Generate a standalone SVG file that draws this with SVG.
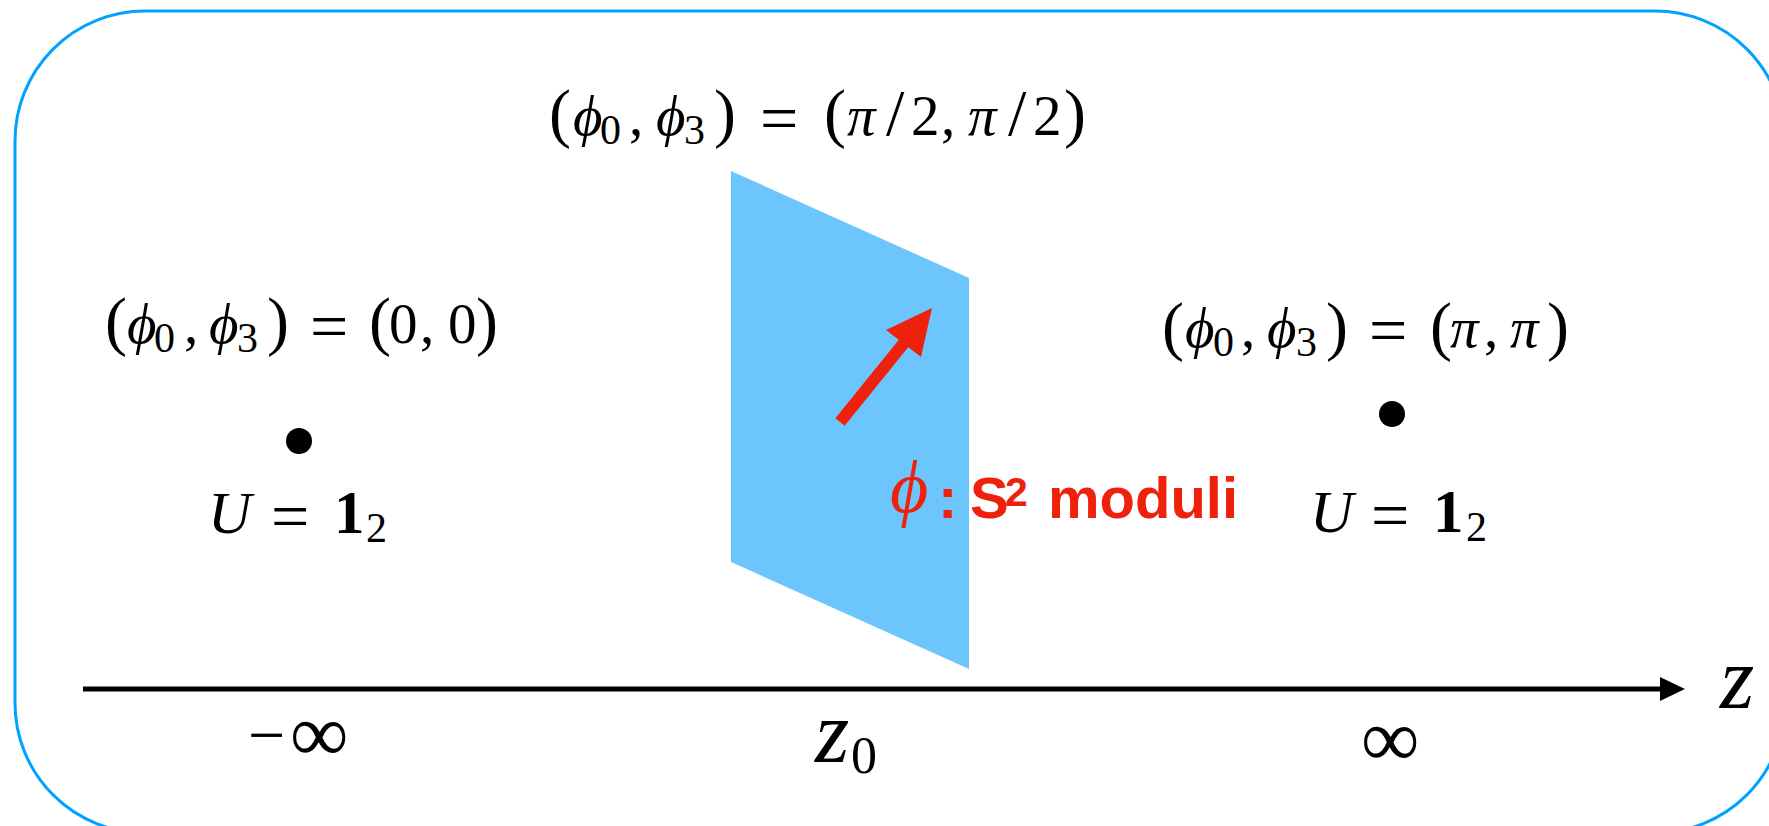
<svg xmlns="http://www.w3.org/2000/svg" width="1769" height="826" viewBox="0 0 1769 826">
<style>
.m{font-family:"Liberation Serif","DejaVu Serif",serif;fill:#000;font-size:57px}
.i{font-style:italic}
.p{font-size:66px}
.eq{font-size:68px}
.s{font-size:42px}
.bd{font-weight:bold;font-size:61px}
.red{fill:#EE220C}
.sans{font-family:"Liberation Sans","Noto Sans",sans-serif;font-weight:bold;font-style:normal;font-size:58px}
</style>
<defs>
<marker id="ah" markerWidth="25" markerHeight="24" refX="0" refY="12" orient="auto" markerUnits="userSpaceOnUse">
<path d="M0,0 L25,12 L0,24 Z" fill="#000"/>
</marker>
</defs>
<rect width="1769" height="826" fill="#fff"/>
<g id="frame">
<rect x="15" y="11" width="1770" height="822" rx="130" ry="130" fill="none" stroke="#00A2FF" stroke-width="3"/>
</g>
<g id="plane">
<polygon points="731,171 969,278 969,669 731,562" fill="#6CC6FD"/>
</g>
<g id="connectors">
<line x1="83" y1="689" x2="1660" y2="689" stroke="#000" stroke-width="5" marker-end="url(#ah)"/>
<g id="moduli-arrow">
<line x1="840" y1="422" x2="908" y2="338" stroke="#EE220C" stroke-width="12"/>
<polygon points="932,308 886,330 921,357" fill="#EE220C"/>
</g>
</g>
<g id="dot-left"><circle cx="299" cy="441" r="13" fill="#000"/></g>
<g id="dot-right"><circle cx="1392" cy="414" r="13" fill="#000"/></g>
<g id="label-top">
<text class="m">
<tspan class="p" x="549" y="135">(</tspan><tspan class="i" x="573" y="135">ϕ</tspan><tspan class="s" x="600" y="144">0</tspan><tspan x="629" y="135">,</tspan><tspan class="i" x="656" y="135">ϕ</tspan><tspan class="s" x="684" y="144">3</tspan><tspan class="p" x="714" y="135">)</tspan><tspan class="eq" x="760" y="141">=</tspan><tspan class="p" x="824" y="135">(</tspan><tspan class="i" x="847" y="135">π</tspan><tspan class="p" x="886" y="135">/</tspan><tspan x="911" y="135">2</tspan><tspan x="941" y="135">,</tspan><tspan class="i" x="968" y="135">π</tspan><tspan class="p" x="1008" y="135">/</tspan><tspan x="1033" y="135">2</tspan><tspan class="p" x="1064" y="135">)</tspan>
</text>
</g>
<g id="label-left">
<text class="m">
<tspan class="p" x="105" y="343">(</tspan><tspan class="i" x="127" y="343">ϕ</tspan><tspan class="s" x="154" y="352">0</tspan><tspan x="184" y="343">,</tspan><tspan class="i" x="209" y="343">ϕ</tspan><tspan class="s" x="237" y="352">3</tspan><tspan class="p" x="267" y="343">)</tspan><tspan class="eq" x="310" y="349">=</tspan><tspan class="p" x="369" y="343">(</tspan><tspan x="389" y="343">0</tspan><tspan x="420" y="343">,</tspan><tspan x="448" y="343">0</tspan><tspan class="p" x="476" y="343">)</tspan>
</text>
</g>
<g id="label-right">
<text class="m">
<tspan class="p" x="1162" y="348">(</tspan><tspan class="i" x="1185" y="347">ϕ</tspan><tspan class="s" x="1213" y="356">0</tspan><tspan x="1241" y="347">,</tspan><tspan class="i" x="1267" y="347">ϕ</tspan><tspan class="s" x="1296" y="356">3</tspan><tspan class="p" x="1326" y="348">)</tspan><tspan class="eq" x="1369" y="353">=</tspan><tspan class="p" x="1430" y="348">(</tspan><tspan class="i" x="1450" y="347">π</tspan><tspan x="1484" y="347">,</tspan><tspan class="i" x="1510" y="347">π</tspan><tspan class="p" x="1547" y="348">)</tspan>
</text>
</g>
<g id="u-left">
<text class="m">
<tspan class="i" x="208" y="533" style="font-size:60px">U</tspan><tspan class="eq" x="271" y="539">=</tspan><tspan class="bd" x="334" y="533">1</tspan><tspan class="s" x="366" y="542">2</tspan>
</text>
</g>
<g id="u-right">
<text class="m">
<tspan class="i" x="1310" y="532" style="font-size:60px">U</tspan><tspan class="eq" x="1371" y="538">=</tspan><tspan class="bd" x="1433" y="532">1</tspan><tspan class="s" x="1466" y="541">2</tspan>
</text>
</g>
<g id="moduli-label">
<text class="red" x="890" y="512" style="font-family:'Liberation Serif','DejaVu Serif',serif;font-style:italic;font-size:74px">ϕ<tspan class="sans" x="938" y="518">:</tspan></text>
<text class="sans red" x="970" y="518">S<tspan x="1005" y="506" style="font-size:41px">2</tspan><tspan x="1048" y="518">moduli</tspan></text>
</g>
<g id="axis-labels">
<text class="m" x="248" y="757" style="font-size:66px">−</text>
<text class="m" x="290" y="761" style="font-size:82px">∞</text>
<text class="m" x="1361" y="766" style="font-size:82px">∞</text>
<text class="m i" x="815" y="762" style="font-size:88px">z</text>
<text class="m" x="851" y="773" style="font-size:52px">0</text>
<text class="m i" x="1720" y="708" style="font-size:88px">z</text>
</g>
</svg>
